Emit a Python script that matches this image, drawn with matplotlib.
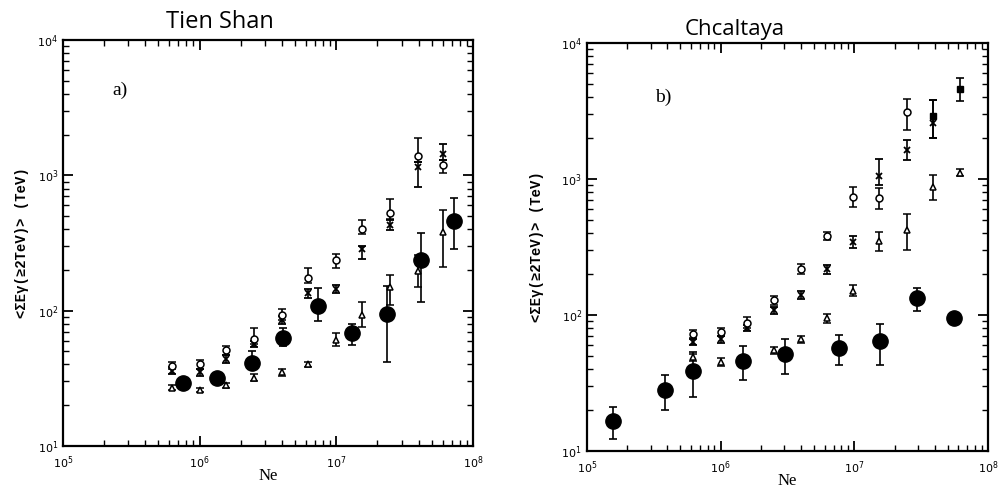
import matplotlib

matplotlib.use("Agg")
import matplotlib.pyplot as plt
import numpy as np
from matplotlib.ticker import LogLocator, NullFormatter


# Tien Shan: mean gamma-family energy vs shower size Ne
ts_ne_open = [6.25e5, 1.0e6, 1.57e6, 2.5e6, 4.0e6, 6.2e6, 9.95e6, 1.55e7, 2.46e7, 3.93e7, 6.0e7]
ts_circle = [39, 40, 51, 62, 93, 175, 235, 400, 530, 1400, 1200]
ts_circle_lo = [37, 37, 47, 57, 85, 160, 205, 370, 480, 1250, 1035]
ts_circle_hi = [42, 43, 55, 75, 102, 207, 262, 470, 670, 1890, 1300]
ts_cross = [36, 35, 44, 57, 86, 135, 145, 285, 430, 1150, 1450]
ts_cross_lo = [34, 33, 41, 54, 80, 125, 135, 240, 396, 826, 1300]
ts_cross_hi = [38, 37, 47, 60, 92, 145, 155, 300, 470, 1250, 1718]
ts_tri = [27, 26, 28, 32, 35, 40, 61, 93, 149, 195, 381]
ts_tri_lo = [26, 25, 27, 30, 33, 38, 55, 76, 111, 150, 210]
ts_tri_hi = [28, 27, 29, 34, 37, 42, 68, 115, 185, 260, 556]

ts_ne_fill = [7.5e5, 1.33e6, 2.4e6, 4.1e6, 7.4e6, 1.3e7, 2.35e7, 4.15e7, 7.3e7]
ts_fill = [29, 32, 41, 63, 108, 68, 95, 235, 460]
ts_fill_lo = [27, 30, 37, 55, 84, 56, 42, 115, 286]
ts_fill_hi = [31, 34, 50, 75, 148, 80, 153, 375, 680]

# Chacaltaya
ch_ne_circle = [6.2e5, 1.0e6, 1.58e6, 2.53e6, 4.0e6, 6.25e6, 9.7e6, 1.54e7, 2.46e7]
ch_circle = [73, 75, 88, 128, 218, 383, 743, 728, 3127]
ch_circle_lo = [68, 70, 80, 118, 200, 355, 620, 600, 2300]
ch_circle_hi = [78, 80, 96, 138, 236, 410, 870, 860, 3900]

ch_ne_cross = [6.2e5, 1.0e6, 1.58e6, 2.53e6, 4.0e6, 6.25e6, 9.7e6, 1.54e7, 2.46e7, 3.9e7]
ch_cross = [63, 66, 80, 108, 141, 217, 345, 1055, 1626, 2600]
ch_cross_lo = [60, 62, 76, 102, 132, 200, 310, 900, 1370, 2000]
ch_cross_hi = [66, 70, 84, 114, 150, 234, 380, 1410, 1930, 3840]

ch_ne_tri = [6.2e5, 1.0e6, 2.53e6, 4.0e6, 6.25e6, 9.7e6, 1.54e7, 2.46e7, 3.9e7, 6.2e7]
ch_tri = [49, 45, 55, 66, 95, 151, 348, 420, 875, 1117]
ch_tri_lo = [46, 42, 52, 62, 88, 138, 295, 302, 700, 1050]
ch_tri_hi = [52, 48, 58, 70, 102, 165, 410, 555, 1070, 1190]

ch_ne_fill = [1.57e5, 3.82e5, 6.2e5, 1.47e6, 3.05e6, 7.7e6, 1.56e7, 2.92e7, 5.57e7]
ch_fill = [16.7, 28, 39, 46, 52, 57, 64, 133, 95]
ch_fill_lo = [12.3, 20, 25, 33, 37, 43, 43, 107, 90]
ch_fill_hi = [21, 36, 53, 59, 67, 71, 86, 158, 100]

ch_ne_sq = [3.9e7, 6.2e7]
ch_sq = [2925, 4625]
ch_sq_lo = [2000, 3760]
ch_sq_hi = [3840, 5585]

YLABEL = "<ΣEγ(≥2TeV)> (TeV)"


def yerr(y, lo, hi):
    y = np.asarray(y, dtype=float)
    return [y - np.asarray(lo), np.asarray(hi) - y]


def series(ax, x, y, lo, hi, **kw):
    ax.errorbar(x, y, yerr=yerr(y, lo, hi), linestyle="none", color="black",
                ecolor="black", elinewidth=1.2, capsize=3, capthick=1.2, **kw)


def style_axes(ax, ypad):
    ax.set_xscale("log")
    ax.set_yscale("log")
    ax.set_xlim(1e5, 1e8)
    ax.set_ylim(1e1, 1e4)
    for spine in ax.spines.values():
        spine.set_linewidth(1.6)
    ax.xaxis.set_major_locator(LogLocator(base=10, numticks=10))
    ax.yaxis.set_major_locator(LogLocator(base=10, numticks=10))
    ax.xaxis.set_minor_locator(LogLocator(base=10, subs=np.arange(2, 10), numticks=20))
    ax.yaxis.set_minor_locator(LogLocator(base=10, subs=np.arange(2, 10), numticks=20))
    ax.xaxis.set_minor_formatter(NullFormatter())
    ax.yaxis.set_minor_formatter(NullFormatter())
    ax.tick_params(which="both", direction="in", top=True, right=True, labelsize=8)
    ax.tick_params(which="major", length=7, width=1.3)
    ax.tick_params(which="minor", length=4, width=1.0)
    ax.tick_params(axis="x", pad=6)
    ax.set_xlabel("Ne", family="Liberation Serif", fontsize=12, labelpad=-2)
    ax.set_ylabel(YLABEL, family=["Liberation Mono", "DejaVu Sans Mono"], fontsize=10,
                  fontweight="bold", labelpad=ypad)


def main():
    fig = plt.figure(figsize=(9.98, 4.96), dpi=100)
    ax_a = fig.add_axes([0.063, 0.101, 0.411, 0.818])
    ax_b = fig.add_axes([0.588, 0.091, 0.402, 0.822])

    open_kw = dict(markerfacecolor="white", markeredgecolor="black", markeredgewidth=1.1)

    # a) Tien Shan
    series(ax_a, ts_ne_open, ts_tri, ts_tri_lo, ts_tri_hi, marker="^", markersize=5, **open_kw)
    series(ax_a, ts_ne_open, ts_cross, ts_cross_lo, ts_cross_hi, marker="x", markersize=5,
           markeredgewidth=1.3)
    series(ax_a, ts_ne_open, ts_circle, ts_circle_lo, ts_circle_hi, marker="o", markersize=5, **open_kw)
    series(ax_a, ts_ne_fill, ts_fill, ts_fill_lo, ts_fill_hi, marker="o", markersize=11,
           markerfacecolor="black", markeredgecolor="black")
    style_axes(ax_a, ypad=6)
    ax_a.text(0.12, 0.865, "a)", transform=ax_a.transAxes, family="Liberation Serif", fontsize=14)
    fig.text(0.22, 0.955, "Tien Shan", ha="center", va="center", fontsize=17, family="Open Sans")

    # b) Chacaltaya
    series(ax_b, ch_ne_tri, ch_tri, ch_tri_lo, ch_tri_hi, marker="^", markersize=5, **open_kw)
    series(ax_b, ch_ne_cross, ch_cross, ch_cross_lo, ch_cross_hi, marker="x", markersize=5,
           markeredgewidth=1.3)
    series(ax_b, ch_ne_circle, ch_circle, ch_circle_lo, ch_circle_hi, marker="o", markersize=5, **open_kw)
    series(ax_b, ch_ne_sq, ch_sq, ch_sq_lo, ch_sq_hi, marker="s", markersize=5,
           markerfacecolor="black", markeredgecolor="black")
    series(ax_b, ch_ne_fill, ch_fill, ch_fill_lo, ch_fill_hi, marker="o", markersize=11,
           markerfacecolor="black", markeredgecolor="black")
    style_axes(ax_b, ypad=12)
    ax_b.text(0.17, 0.855, "b)", transform=ax_b.transAxes, family="Liberation Serif", fontsize=14)
    fig.text(0.736, 0.94, "Chcaltaya", ha="center", va="center", fontsize=16, family="Open Sans")

    fig.savefig("out.png", dpi=100)
    plt.close(fig)


if __name__ == "__main__":
    main()
